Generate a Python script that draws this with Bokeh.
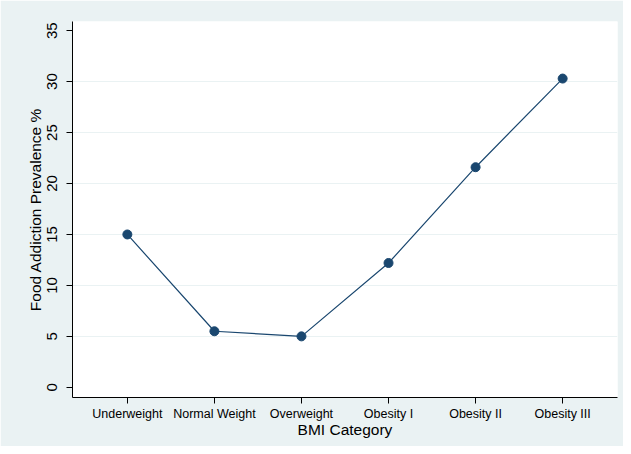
from bokeh.plotting import figure
from bokeh.models import ColumnDataSource, Range1d, FixedTicker
from bokeh.embed import file_html
from bokeh.resources import INLINE

categories = ["Underweight", "Normal Weight", "Overweight", "Obesity I", "Obesity II", "Obesity III"]
prevalence = [15.0, 5.5, 5.0, 12.2, 21.6, 30.3]
y_ticks = [0, 5, 10, 15, 20, 25, 30, 35]
grid_ticks = [5, 10, 15, 20, 25, 30]

x_pos = list(range(1, len(categories) + 1))
source = ColumnDataSource(data=dict(x=x_pos, y=prevalence, cat=categories))

NAVY = "#1A476F"
BG = "#EAF2F3"
FONT = "Liberation Sans"

p = figure(width=623, height=446, output_backend="svg", toolbar_location=None,
           x_range=Range1d(0.37, 6.63), y_range=Range1d(-1, 35.9),
           min_border_left=72, min_border_right=6, min_border_top=21, min_border_bottom=49)

p.background_fill_color = "white"
p.border_fill_color = BG
p.outline_line_color = None

p.line("x", "y", source=source, line_color=NAVY, line_width=1.2)
p.scatter("x", "y", source=source, size=9, fill_color=NAVY, line_color=NAVY)

# x axis
p.xaxis.ticker = FixedTicker(ticks=x_pos)
p.xaxis.major_label_overrides = {i: c for i, c in zip(x_pos, categories)}
p.xaxis.axis_label = "BMI Category"
p.xaxis.axis_label_text_font = FONT
p.xaxis.axis_label_text_font_size = "15.5px"
p.xaxis.axis_label_text_font_style = "normal"
p.xaxis.axis_label_text_color = "black"
p.xaxis.axis_label_standoff = -3
p.xaxis.major_label_text_font = FONT
p.xaxis.major_label_text_font_size = "12.5px"
p.xaxis.major_label_text_color = "black"
p.xaxis.major_label_standoff = 3

# y axis
p.yaxis.ticker = FixedTicker(ticks=y_ticks)
p.yaxis.axis_label = "Food Addiction Prevalence %"
p.yaxis.axis_label_text_font = FONT
p.yaxis.axis_label_text_font_size = "15.5px"
p.yaxis.axis_label_text_font_style = "normal"
p.yaxis.axis_label_text_color = "black"
p.yaxis.axis_label_standoff = 1
p.yaxis.major_label_text_font = FONT
p.yaxis.major_label_text_font_size = "15px"
p.yaxis.major_label_text_color = "black"
p.yaxis.major_label_orientation = "vertical"
p.yaxis.major_label_standoff = 9

for ax in (p.xaxis, p.yaxis):
    ax.axis_line_color = "black"
    ax.axis_line_width = 1
    ax.major_tick_line_color = "black"
    ax.major_tick_out = 6
    ax.major_tick_in = 0
    ax.minor_tick_line_color = None

p.xgrid.grid_line_color = None
p.ygrid.ticker = FixedTicker(ticks=grid_ticks)
p.ygrid.grid_line_color = BG
p.ygrid.grid_line_width = 1

open("out.html", "w").write(file_html(p, INLINE))
